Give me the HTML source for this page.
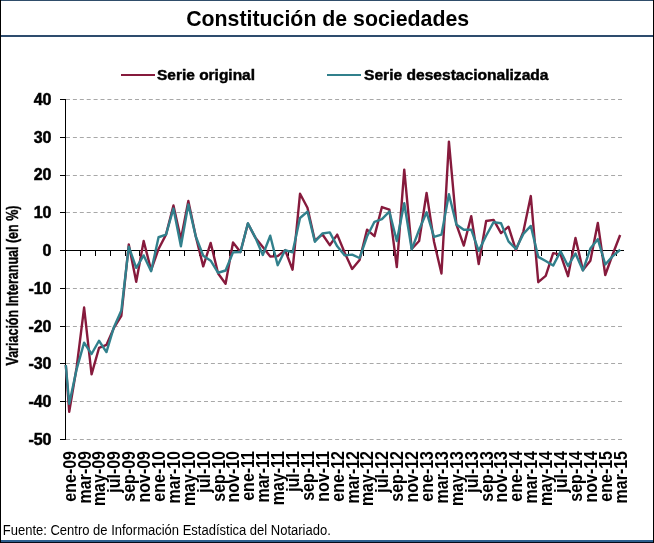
<!DOCTYPE html>
<html><head><meta charset="utf-8"><title>Constitución de sociedades</title>
<style>
html,body{margin:0;padding:0;background:#fff;}
body{width:654px;height:543px;overflow:hidden;}
svg{display:block;}
text{font-family:"Liberation Sans",Arial,sans-serif;fill:#000;}
.yl{font-size:16px;font-weight:bold;stroke:#000;stroke-width:0.5px;}
.xl{font-size:16px;font-weight:bold;}
.yt{font-size:16px;font-weight:bold;stroke:#000;stroke-width:0.4px;}
.lg{font-size:15.4px;font-weight:bold;stroke:#000;stroke-width:0.45px;}
.ti{font-size:21.8px;font-weight:bold;}
.ft{font-size:13.8px;}
</style></head>
<body>
<svg width="654" height="543" viewBox="0 0 654 543">
<rect x="0" y="0" width="654" height="543" fill="#fff"/>
<line x1="66" y1="99.5" x2="624" y2="99.5" stroke="#a8a8a8" stroke-width="1" stroke-dasharray="4,2.9"/>
<line x1="66" y1="137.5" x2="624" y2="137.5" stroke="#a8a8a8" stroke-width="1" stroke-dasharray="4,2.9"/>
<line x1="66" y1="175.5" x2="624" y2="175.5" stroke="#a8a8a8" stroke-width="1" stroke-dasharray="4,2.9"/>
<line x1="66" y1="212.5" x2="624" y2="212.5" stroke="#a8a8a8" stroke-width="1" stroke-dasharray="4,2.9"/>
<line x1="66" y1="288.5" x2="624" y2="288.5" stroke="#a8a8a8" stroke-width="1" stroke-dasharray="4,2.9"/>
<line x1="66" y1="326.5" x2="624" y2="326.5" stroke="#a8a8a8" stroke-width="1" stroke-dasharray="4,2.9"/>
<line x1="66" y1="363.5" x2="624" y2="363.5" stroke="#a8a8a8" stroke-width="1" stroke-dasharray="4,2.9"/>
<line x1="66" y1="401.5" x2="624" y2="401.5" stroke="#a8a8a8" stroke-width="1" stroke-dasharray="4,2.9"/>
<line x1="66" y1="439.5" x2="624" y2="439.5" stroke="#a8a8a8" stroke-width="1" stroke-dasharray="4,2.9"/>
<line x1="65.5" y1="99" x2="65.5" y2="440" stroke="#000" stroke-width="1"/>
<line x1="60" y1="99.5" x2="65.5" y2="99.5" stroke="#000" stroke-width="1"/>
<text x="51.5" y="104.8" text-anchor="end" class="yl">40</text>
<line x1="60" y1="137.5" x2="65.5" y2="137.5" stroke="#000" stroke-width="1"/>
<text x="51.5" y="142.6" text-anchor="end" class="yl">30</text>
<line x1="60" y1="175.5" x2="65.5" y2="175.5" stroke="#000" stroke-width="1"/>
<text x="51.5" y="180.3" text-anchor="end" class="yl">20</text>
<line x1="60" y1="212.5" x2="65.5" y2="212.5" stroke="#000" stroke-width="1"/>
<text x="51.5" y="218.1" text-anchor="end" class="yl">10</text>
<line x1="60" y1="250.5" x2="65.5" y2="250.5" stroke="#000" stroke-width="1"/>
<text x="51.5" y="255.9" text-anchor="end" class="yl">0</text>
<line x1="60" y1="288.5" x2="65.5" y2="288.5" stroke="#000" stroke-width="1"/>
<text x="51.5" y="293.7" text-anchor="end" class="yl">-10</text>
<line x1="60" y1="326.5" x2="65.5" y2="326.5" stroke="#000" stroke-width="1"/>
<text x="51.5" y="331.5" text-anchor="end" class="yl">-20</text>
<line x1="60" y1="363.5" x2="65.5" y2="363.5" stroke="#000" stroke-width="1"/>
<text x="51.5" y="369.2" text-anchor="end" class="yl">-30</text>
<line x1="60" y1="401.5" x2="65.5" y2="401.5" stroke="#000" stroke-width="1"/>
<text x="51.5" y="407.0" text-anchor="end" class="yl">-40</text>
<line x1="60" y1="439.5" x2="65.5" y2="439.5" stroke="#000" stroke-width="1"/>
<text x="51.5" y="444.8" text-anchor="end" class="yl">-50</text>
<line x1="65.5" y1="250.5" x2="624" y2="250.5" stroke="#000" stroke-width="1"/>
<line x1="65.50" y1="250.5" x2="65.50" y2="256.0" stroke="#000" stroke-width="1"/>
<line x1="80.50" y1="250.5" x2="80.50" y2="256.0" stroke="#000" stroke-width="1"/>
<line x1="95.50" y1="250.5" x2="95.50" y2="256.0" stroke="#000" stroke-width="1"/>
<line x1="110.50" y1="250.5" x2="110.50" y2="256.0" stroke="#000" stroke-width="1"/>
<line x1="125.50" y1="250.5" x2="125.50" y2="256.0" stroke="#000" stroke-width="1"/>
<line x1="139.50" y1="250.5" x2="139.50" y2="256.0" stroke="#000" stroke-width="1"/>
<line x1="154.50" y1="250.5" x2="154.50" y2="256.0" stroke="#000" stroke-width="1"/>
<line x1="169.50" y1="250.5" x2="169.50" y2="256.0" stroke="#000" stroke-width="1"/>
<line x1="184.50" y1="250.5" x2="184.50" y2="256.0" stroke="#000" stroke-width="1"/>
<line x1="199.50" y1="250.5" x2="199.50" y2="256.0" stroke="#000" stroke-width="1"/>
<line x1="214.50" y1="250.5" x2="214.50" y2="256.0" stroke="#000" stroke-width="1"/>
<line x1="229.50" y1="250.5" x2="229.50" y2="256.0" stroke="#000" stroke-width="1"/>
<line x1="244.50" y1="250.5" x2="244.50" y2="256.0" stroke="#000" stroke-width="1"/>
<line x1="259.50" y1="250.5" x2="259.50" y2="256.0" stroke="#000" stroke-width="1"/>
<line x1="273.50" y1="250.5" x2="273.50" y2="256.0" stroke="#000" stroke-width="1"/>
<line x1="288.50" y1="250.5" x2="288.50" y2="256.0" stroke="#000" stroke-width="1"/>
<line x1="303.50" y1="250.5" x2="303.50" y2="256.0" stroke="#000" stroke-width="1"/>
<line x1="318.50" y1="250.5" x2="318.50" y2="256.0" stroke="#000" stroke-width="1"/>
<line x1="333.50" y1="250.5" x2="333.50" y2="256.0" stroke="#000" stroke-width="1"/>
<line x1="348.50" y1="250.5" x2="348.50" y2="256.0" stroke="#000" stroke-width="1"/>
<line x1="363.50" y1="250.5" x2="363.50" y2="256.0" stroke="#000" stroke-width="1"/>
<line x1="378.50" y1="250.5" x2="378.50" y2="256.0" stroke="#000" stroke-width="1"/>
<line x1="393.50" y1="250.5" x2="393.50" y2="256.0" stroke="#000" stroke-width="1"/>
<line x1="407.50" y1="250.5" x2="407.50" y2="256.0" stroke="#000" stroke-width="1"/>
<line x1="422.50" y1="250.5" x2="422.50" y2="256.0" stroke="#000" stroke-width="1"/>
<line x1="437.50" y1="250.5" x2="437.50" y2="256.0" stroke="#000" stroke-width="1"/>
<line x1="452.50" y1="250.5" x2="452.50" y2="256.0" stroke="#000" stroke-width="1"/>
<line x1="467.50" y1="250.5" x2="467.50" y2="256.0" stroke="#000" stroke-width="1"/>
<line x1="482.50" y1="250.5" x2="482.50" y2="256.0" stroke="#000" stroke-width="1"/>
<line x1="497.50" y1="250.5" x2="497.50" y2="256.0" stroke="#000" stroke-width="1"/>
<line x1="512.50" y1="250.5" x2="512.50" y2="256.0" stroke="#000" stroke-width="1"/>
<line x1="527.50" y1="250.5" x2="527.50" y2="256.0" stroke="#000" stroke-width="1"/>
<line x1="541.50" y1="250.5" x2="541.50" y2="256.0" stroke="#000" stroke-width="1"/>
<line x1="556.50" y1="250.5" x2="556.50" y2="256.0" stroke="#000" stroke-width="1"/>
<line x1="571.50" y1="250.5" x2="571.50" y2="256.0" stroke="#000" stroke-width="1"/>
<line x1="586.50" y1="250.5" x2="586.50" y2="256.0" stroke="#000" stroke-width="1"/>
<line x1="601.50" y1="250.5" x2="601.50" y2="256.0" stroke="#000" stroke-width="1"/>
<line x1="616.50" y1="250.5" x2="616.50" y2="256.0" stroke="#000" stroke-width="1"/>
<g fill="none" stroke-linejoin="round">
<polyline points="65.80,365.00 69.22,411.80 76.67,367.22 84.11,307.53 91.56,374.40 99.00,347.95 106.45,344.93 113.89,327.93 121.34,315.84 128.78,244.43 136.23,281.84 143.67,241.03 151.12,270.12 158.56,248.97 166.01,234.61 173.45,205.52 180.90,239.14 188.34,200.99 195.79,236.50 203.23,266.35 210.68,242.92 218.12,273.52 225.57,283.72 233.01,242.54 240.46,251.99 247.90,223.65 255.35,237.63 262.79,247.08 270.24,256.52 277.68,256.14 285.13,250.10 292.57,269.75 300.02,193.81 307.46,207.79 314.91,240.66 322.35,234.23 329.80,245.19 337.24,234.61 344.69,252.74 352.13,268.99 359.58,259.92 367.02,229.70 374.47,236.12 381.91,207.03 389.36,209.68 396.80,267.10 404.25,169.63 411.69,248.97 419.14,241.03 426.58,193.05 434.03,241.79 441.47,273.52 448.92,141.67 456.36,224.41 463.81,245.57 471.25,216.10 478.70,264.08 486.14,221.01 493.59,219.88 501.03,233.10 508.48,226.68 515.92,250.10 523.37,231.59 530.81,196.07 538.26,282.21 545.70,275.79 553.15,253.12 560.59,254.63 568.04,276.17 575.48,238.01 582.93,270.12 590.37,260.68 597.82,222.90 605.26,275.03 612.71,254.26 620.15,234.99" stroke="#861a3c" stroke-width="2.4"/>
<polyline points="65.80,365.00 69.22,403.86 76.67,369.11 84.11,342.66 91.56,354.00 99.00,340.77 106.45,352.11 113.89,327.17 121.34,310.55 128.78,246.70 136.23,267.86 143.67,255.39 151.12,271.26 158.56,237.25 166.01,234.61 173.45,208.54 180.90,246.32 188.34,204.39 195.79,236.50 203.23,255.77 210.68,260.68 218.12,272.77 225.57,270.50 233.01,252.37 240.46,251.99 247.90,223.28 255.35,237.63 262.79,255.01 270.24,235.74 277.68,265.21 285.13,250.10 292.57,252.37 300.02,217.99 307.46,211.56 314.91,241.79 322.35,233.48 329.80,232.34 337.24,246.32 344.69,255.39 352.13,254.63 359.58,258.03 367.02,236.50 374.47,221.76 381.91,219.12 389.36,211.56 396.80,241.03 404.25,203.25 411.69,249.34 419.14,229.70 426.58,212.32 434.03,236.88 441.47,234.61 448.92,194.19 456.36,224.41 463.81,229.70 471.25,229.70 478.70,250.86 486.14,235.74 493.59,222.14 501.03,223.28 508.48,241.41 515.92,248.97 523.37,233.85 530.81,225.92 538.26,256.90 545.70,261.06 553.15,265.59 560.59,251.23 568.04,265.97 575.48,253.50 582.93,270.50 590.37,248.59 597.82,239.14 605.26,264.46 612.71,256.14 620.15,249.72" stroke="#31808c" stroke-width="2.4"/>
</g>
<text transform="translate(75.62,451) rotate(-90) scale(1,1.2)" text-anchor="end" class="xl">ene-09</text>
<text transform="translate(90.51,451) rotate(-90) scale(1,1.2)" text-anchor="end" class="xl">mar-09</text>
<text transform="translate(105.40,451) rotate(-90) scale(1,1.2)" text-anchor="end" class="xl">may-09</text>
<text transform="translate(120.29,451) rotate(-90) scale(1,1.2)" text-anchor="end" class="xl">jul-09</text>
<text transform="translate(135.18,451) rotate(-90) scale(1,1.2)" text-anchor="end" class="xl">sep-09</text>
<text transform="translate(150.07,451) rotate(-90) scale(1,1.2)" text-anchor="end" class="xl">nov-09</text>
<text transform="translate(164.96,451) rotate(-90) scale(1,1.2)" text-anchor="end" class="xl">ene-10</text>
<text transform="translate(179.85,451) rotate(-90) scale(1,1.2)" text-anchor="end" class="xl">mar-10</text>
<text transform="translate(194.74,451) rotate(-90) scale(1,1.2)" text-anchor="end" class="xl">may-10</text>
<text transform="translate(209.63,451) rotate(-90) scale(1,1.2)" text-anchor="end" class="xl">jul-10</text>
<text transform="translate(224.52,451) rotate(-90) scale(1,1.2)" text-anchor="end" class="xl">sep-10</text>
<text transform="translate(239.41,451) rotate(-90) scale(1,1.2)" text-anchor="end" class="xl">nov-10</text>
<text transform="translate(254.30,451) rotate(-90) scale(1,1.2)" text-anchor="end" class="xl">ene-11</text>
<text transform="translate(269.19,451) rotate(-90) scale(1,1.2)" text-anchor="end" class="xl">mar-11</text>
<text transform="translate(284.08,451) rotate(-90) scale(1,1.2)" text-anchor="end" class="xl">may-11</text>
<text transform="translate(298.97,451) rotate(-90) scale(1,1.2)" text-anchor="end" class="xl">jul-11</text>
<text transform="translate(313.86,451) rotate(-90) scale(1,1.2)" text-anchor="end" class="xl">sep-11</text>
<text transform="translate(328.75,451) rotate(-90) scale(1,1.2)" text-anchor="end" class="xl">nov-11</text>
<text transform="translate(343.64,451) rotate(-90) scale(1,1.2)" text-anchor="end" class="xl">ene-12</text>
<text transform="translate(358.53,451) rotate(-90) scale(1,1.2)" text-anchor="end" class="xl">mar-12</text>
<text transform="translate(373.42,451) rotate(-90) scale(1,1.2)" text-anchor="end" class="xl">may-12</text>
<text transform="translate(388.31,451) rotate(-90) scale(1,1.2)" text-anchor="end" class="xl">jul-12</text>
<text transform="translate(403.20,451) rotate(-90) scale(1,1.2)" text-anchor="end" class="xl">sep-12</text>
<text transform="translate(418.09,451) rotate(-90) scale(1,1.2)" text-anchor="end" class="xl">nov-12</text>
<text transform="translate(432.98,451) rotate(-90) scale(1,1.2)" text-anchor="end" class="xl">ene-13</text>
<text transform="translate(447.87,451) rotate(-90) scale(1,1.2)" text-anchor="end" class="xl">mar-13</text>
<text transform="translate(462.76,451) rotate(-90) scale(1,1.2)" text-anchor="end" class="xl">may-13</text>
<text transform="translate(477.65,451) rotate(-90) scale(1,1.2)" text-anchor="end" class="xl">jul-13</text>
<text transform="translate(492.54,451) rotate(-90) scale(1,1.2)" text-anchor="end" class="xl">sep-13</text>
<text transform="translate(507.43,451) rotate(-90) scale(1,1.2)" text-anchor="end" class="xl">nov-13</text>
<text transform="translate(522.32,451) rotate(-90) scale(1,1.2)" text-anchor="end" class="xl">ene-14</text>
<text transform="translate(537.21,451) rotate(-90) scale(1,1.2)" text-anchor="end" class="xl">mar-14</text>
<text transform="translate(552.10,451) rotate(-90) scale(1,1.2)" text-anchor="end" class="xl">may-14</text>
<text transform="translate(566.99,451) rotate(-90) scale(1,1.2)" text-anchor="end" class="xl">jul-14</text>
<text transform="translate(581.88,451) rotate(-90) scale(1,1.2)" text-anchor="end" class="xl">sep-14</text>
<text transform="translate(596.77,451) rotate(-90) scale(1,1.2)" text-anchor="end" class="xl">nov-14</text>
<text transform="translate(611.66,451) rotate(-90) scale(1,1.2)" text-anchor="end" class="xl">ene-15</text>
<text transform="translate(626.55,451) rotate(-90) scale(1,1.2)" text-anchor="end" class="xl">mar-15</text>
<text transform="translate(17.5,365.5) rotate(-90)" class="yt" textLength="160" lengthAdjust="spacingAndGlyphs">Variación Interanual (en %)</text>
<line x1="121" y1="75" x2="155" y2="75" stroke="#861a3c" stroke-width="2.2"/>
<text x="157" y="80.3" class="lg" textLength="98" lengthAdjust="spacingAndGlyphs">Serie original</text>
<line x1="327" y1="75" x2="361" y2="75" stroke="#31808c" stroke-width="2.2"/>
<text x="364" y="80.3" class="lg" textLength="184.5" lengthAdjust="spacingAndGlyphs">Serie desestacionalizada</text>
<text x="186.2" y="25.5" class="ti" textLength="283" lengthAdjust="spacingAndGlyphs">Constitución de sociedades</text>
<text x="2.8" y="534.8" class="ft" textLength="328" lengthAdjust="spacingAndGlyphs">Fuente: Centro de Información Estadística del Notariado.</text>
<rect x="0" y="0" width="654" height="1" fill="#2f4d6a"/>
<rect x="0" y="35" width="654" height="2" fill="#2e4c6e"/>
<rect x="0" y="540" width="654" height="2" fill="#2d5f8e"/>
<rect x="0" y="542" width="654" height="1" fill="#050a18"/>
<rect x="0" y="0" width="1" height="543" fill="#000"/>
<rect x="653" y="0" width="1" height="543" fill="#000"/>
</svg>
</body></html>
